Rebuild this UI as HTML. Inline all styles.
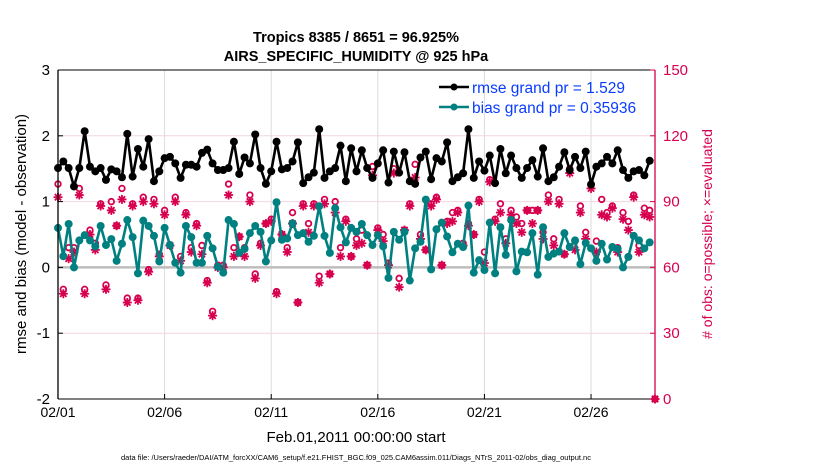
<!DOCTYPE html>
<html><head><meta charset="utf-8"><style>
html,body{margin:0;padding:0;background:#fff;}
svg{display:block;font-family:"Liberation Sans",sans-serif;}
</style></head><body>
<svg id="chart" width="830" height="470" viewBox="0 0 830 470">
<text x="356" y="42" text-anchor="middle" font-size="14.5" font-weight="bold">Tropics 8385 / 8651 = 96.925%</text>
<text x="356" y="61" text-anchor="middle" font-size="14.5" font-weight="bold">AIRS_SPECIFIC_HUMIDITY @ 925 hPa</text>
<g id="grid"></g>
<g id="marks"></g>
<g id="axes"></g>
<text x="0" y="0" transform="translate(26,234) rotate(-90)" text-anchor="middle" font-size="15">rmse and bias (model - observation)</text>
<text x="0" y="0" transform="translate(712,234) rotate(-90)" text-anchor="middle" font-size="14" fill="#d6004f"># of obs: o=possible; ×=evaluated</text>
<text x="356" y="442" text-anchor="middle" font-size="15">Feb.01,2011 00:00:00 start</text>
<text x="356" y="460" text-anchor="middle" font-size="7.5">data file: /Users/raeder/DAI/ATM_forcXX/CAM6_setup/f.e21.FHIST_BGC.f09_025.CAM6assim.011/Diags_NTrS_2011-02/obs_diag_output.nc</text>
<g>
<line x1="439" y1="87" x2="469" y2="87" stroke="#000" stroke-width="2.5"/>
<circle cx="454" cy="87" r="3.5" fill="#000"/>
<text x="472" y="93" font-size="15.5" fill="#0a3cff">rmse grand pr = 1.529</text>
<line x1="439" y1="107" x2="469" y2="107" stroke="#008080" stroke-width="2.5"/>
<circle cx="454" cy="107" r="3.5" fill="#008080"/>
<text x="472" y="113" font-size="15.5" fill="#0a3cff">bias grand pr = 0.35936</text>
</g>
</svg>
<script>
const rmse=[1.51,1.61,1.51,1.23,1.51,2.07,1.53,1.46,1.51,1.33,1.49,1.46,1.37,2.03,1.38,1.80,1.53,1.95,1.31,1.46,1.66,1.68,1.58,1.36,1.56,1.56,1.53,1.74,1.79,
1.58,1.48,1.48,1.51,1.91,1.42,1.67,1.58,2.02,1.51,1.27,1.46,1.91,1.49,1.51,1.61,1.90,1.28,1.37,1.44,2.10,1.36,1.46,1.51,1.85,1.31,1.81,1.46,
1.78,1.51,1.36,1.58,1.78,1.29,1.76,1.44,1.75,1.31,1.27,1.67,1.76,1.34,1.66,1.61,1.90,1.31,1.37,1.43,2.10,1.36,1.61,1.47,1.70,1.28,1.80,1.43,
1.70,1.51,1.36,1.51,1.63,1.38,1.81,1.31,1.37,1.53,1.75,1.48,1.68,1.51,1.76,1.26,1.53,1.58,1.68,1.58,1.78,1.48,1.36,1.46,1.48,1.40,1.62];
const bias=[0.60,0.17,0.66,0.00,0.41,0.49,0.41,0.32,0.63,0.34,0.43,0.10,0.36,0.72,0.46,-0.09,0.71,0.63,0.48,0.09,0.60,0.34,0.07,-0.08,0.63,0.46,0.07,0.07,0.48,
0.29,0.01,-0.08,0.72,0.66,0.22,0.28,0.52,0.63,0.54,0.09,0.41,0.99,0.42,0.44,0.67,0.49,0.52,0.39,0.48,0.93,0.48,0.22,0.90,0.61,0.38,0.60,0.54,
0.66,0.49,0.34,0.49,0.32,-0.16,0.54,0.42,0.54,-0.20,0.29,0.39,1.03,-0.03,0.58,0.68,0.47,0.23,0.36,0.31,0.94,-0.08,0.11,-0.04,0.68,-0.09,0.61,0.19,
0.72,-0.06,0.24,0.23,0.52,-0.11,0.61,0.16,0.21,0.24,0.52,0.31,0.41,0.05,0.37,0.29,0.10,0.36,0.12,0.31,0.28,0.00,0.16,0.48,0.41,0.29,0.38];
const nEval=[92,48,64,67,93,48,75,68,88,50,86,79,91,44,88,45,90,58,89,65,84,70,90,63,84,67,79,66,53,
38,60,60,93,65,74,65,90,55,70,80,81,48,75,67,80,44,88,76,88,53,89,57,85,65,81,65,70,
71,61,102,77,72,61,103,51,77,88,101,73,68,88,91,61,80,81,85,70,79,75,90,62,99,81,85,71,
84,80,76,86,80,86,73,90,70,89,66,103,68,85,73,96,67,84,83,87,67,82,77,92,67,84,83,0];
const nPoss=[98,50,69,69,96,50,77,71,89,52,90,79,96,46,89,46,92,59,91,66,86,70,92,65,85,69,80,70,54,
40,61,61,98,69,74,69,93,57,71,80,82,49,75,69,85,44,89,80,89,56,91,57,90,69,82,65,73,
77,61,106,78,75,62,105,55,77,89,107,75,68,89,92,61,81,85,86,71,80,75,91,67,100,82,89,73,
86,83,80,86,86,86,76,93,73,91,66,105,72,88,76,98,72,91,85,88,69,85,81,93,70,87,86,0];
const leftTicks=[-2,-1,0,1,2,3];
const rightTicks=[0,30,60,90,120,150];
const xTickDays=[0,5,10,15,20,25];
const xTickLabels=["02/01","02/06","02/11","02/16","02/21","02/26"];
const stepDays=0.25;

const X0=58,X1=655,Y0=70,Y1=399,DAYS=28;
const xs=d=>X0+(X1-X0)*d/DAYS;
const yl=v=>Y1-(Y1-Y0)*(v+2)/5;
const yr=v=>Y1-(Y1-Y0)*v/150;
const NS="http://www.w3.org/2000/svg";
function mk(tag,attrs,parent){const e=document.createElementNS(NS,tag);for(const k in attrs)e.setAttribute(k,attrs[k]);parent.appendChild(e);return e;}
const grid=document.getElementById('grid'),marks=document.getElementById('marks'),axes=document.getElementById('axes');
const PINK="#d6004f";
xTickDays.forEach((d,i)=>{
  const g=mk('line',{x1:xs(d),x2:xs(d),y1:Y0,y2:Y1,stroke:'#dcdcdc','stroke-width':1},grid);
  
  
  const t=mk('line',{x1:xs(d),x2:xs(d),y1:Y1,y2:Y1-5,stroke:'#000','stroke-width':1},axes);
  
  
  const l=mk('text',{x:xs(d),y:Y1+18,'text-anchor':'middle','font-size':14},axes);
  l.textContent=xTickLabels[i];
  
  
});
rightTicks.forEach(v=>{
  if(v===0||v===150)return;
  const g=mk('line',{x1:X0,x2:X1,y1:yr(v),y2:yr(v),stroke:'#f3d6df','stroke-width':1},grid);
  
  
});
const z=mk('line',{x1:X0,x2:X1,y1:yl(0),y2:yl(0),stroke:'#bdbdbd','stroke-width':2.5},grid);


function star(cx,cy){
  const g=mk('g',{stroke:PINK,'stroke-width':1.8},marks);
  
  
  for(let a=0;a<4;a++){const an=a*Math.PI/4,r=4.5;mk('line',{x1:cx-r*Math.cos(an),y1:cy-r*Math.sin(an),x2:cx+r*Math.cos(an),y2:cy+r*Math.sin(an)},g);}
}
nEval.forEach((v,i)=>{
  const x=xs(i*stepDays);
  const c=mk('circle',{cx:x,cy:yr(nPoss[i]),r:2.8,fill:'none',stroke:PINK,'stroke-width':1.8},marks);
  
  
  star(x,yr(v));
});
function series(arr,color,name){
  const pts=[];arr.forEach((v,i)=>{if(v!=null)pts.push([xs(i*stepDays),yl(v)]);});
  const p=mk('polyline',{points:pts.map(p=>p.join(',')).join(' '),fill:'none',stroke:color,'stroke-width':2.6,'stroke-linejoin':'round'},marks);
  
  
  pts.forEach(q=>{const c=mk('circle',{cx:q[0],cy:q[1],r:4,fill:color},marks);
    
    });
}
series(bias,'#008080','bias');
series(rmse,'#000000','rmse');
const lax=mk('line',{x1:X0,x2:X0,y1:Y0,y2:Y1,stroke:'#000','stroke-width':1.3},axes);


const rax=mk('line',{x1:X1,x2:X1,y1:Y0,y2:Y1,stroke:PINK,'stroke-width':1.3},axes);


const tax=mk('line',{x1:X0,x2:X1,y1:Y0,y2:Y0,stroke:'#000','stroke-width':1},axes);


const bax=mk('line',{x1:X0,x2:X1,y1:Y1,y2:Y1,stroke:'#000','stroke-width':1},axes);


leftTicks.forEach(v=>{
  const t=mk('line',{x1:X0,x2:X0+5,y1:yl(v),y2:yl(v),stroke:'#000'},axes);
  
  
  const l=mk('text',{x:X0-8,y:yl(v)+5,'text-anchor':'end','font-size':15},axes);
  l.textContent=v;
  
  
});
rightTicks.forEach(v=>{
  const t=mk('line',{x1:X1,x2:X1-5,y1:yr(v),y2:yr(v),stroke:PINK},axes);
  
  
  const l=mk('text',{x:X1+8,y:yr(v)+5,'font-size':15,fill:PINK},axes);
  l.textContent=v;
  
  
});
</script>
</body></html>
